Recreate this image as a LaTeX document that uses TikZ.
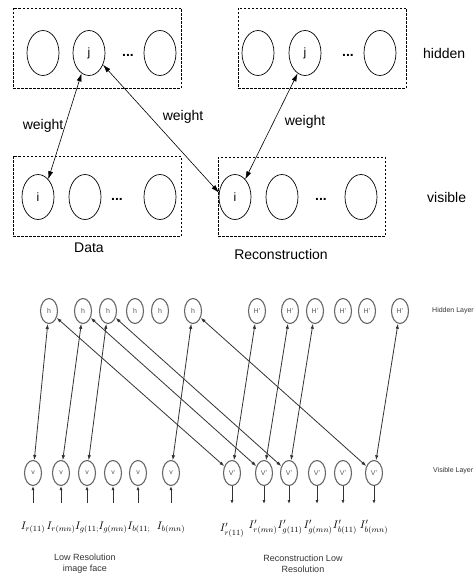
\documentclass[tikz,border=0pt]{standalone}
\usepackage{fontspec}
\setmainfont{Liberation Sans}
\usetikzlibrary{arrows.meta,shapes.geometric}
\begin{document}
\begin{tikzpicture}[x=1pt,y=-1pt,
 bigunit/.style={ellipse,draw,line width=0.7pt,minimum width=32pt,minimum height=45pt,inner sep=0pt,font=\fontsize{12}{14}\selectfont},
 smallunit/.style={ellipse,draw=black!60,line width=1.1pt,minimum width=17pt,minimum height=25pt,inner sep=0pt,font=\fontsize{7}{8}\selectfont,text=black!65},
 layerbox/.style={draw,dash pattern=on 2.5pt off 1.5pt,line width=0.6pt,inner sep=0pt},
 topedge/.style={{Latex[length=8pt,width=5pt]}-{Latex[length=8pt,width=5pt]},line width=0.6pt},
 botedge/.style={{Latex[length=5pt,width=3.5pt]}-{Latex[length=5pt,width=3.5pt]},line width=0.8pt,draw=black!80},
 inedge/.style={-{Latex[length=4pt,width=3pt]},line width=0.9pt,draw=black!80},
 toplabel/.style={font=\fontsize{14}{16}\selectfont},
 dotsnode/.style={font=\fontsize{14}{16}\selectfont\bfseries},
 mathlabel/.style={font=\fontsize{11}{13}\selectfont,inner sep=0pt},
 smalltext/.style={font=\fontsize{9}{11}\selectfont,align=center,text=black!80},
 layertext/.style={font=\fontsize{7}{8}\selectfont,anchor=west,text=black!80,inner sep=0pt}
]
\useasboundingbox (0,0) rectangle (476,578);
% ---------- top: boxes ----------
\node[layerbox,minimum width=168pt,minimum height=80pt] (hbox1) at (97,48) {};
\node[layerbox,minimum width=168pt,minimum height=80pt] (hbox2) at (322,48) {};
\node[layerbox,minimum width=168pt,minimum height=80pt] (dbox) at (97,196) {};
\node[layerbox,minimum width=167pt,minimum height=79pt] (rbox) at (301.5,196.5) {};
% hidden units left
\node[bigunit] (a1) at (43,53) {};
\node[bigunit] (aj) at (89,53) {j};
\node[dotsnode] (adots) at (128,55) {...};
\node[bigunit] (a3) at (160,53) {};
% hidden units right
\node[bigunit] (b1) at (258,53) {};
\node[bigunit] (bj) at (305,53) {j};
\node[dotsnode] (bdots) at (348,55) {...};
\node[bigunit] (b3) at (380,53) {};
% visible data
\node[bigunit] (di) at (38,197) {i};
\node[bigunit] (d2) at (85,197) {};
\node[dotsnode] (ddots) at (117,199) {...};
\node[bigunit] (d3) at (160,197) {};
% visible reconstruction
\node[bigunit] (ri) at (235,197) {i};
\node[bigunit] (r2) at (282,197) {};
\node[dotsnode] (rdots) at (321,199) {...};
\node[bigunit] (r3) at (361,197) {};
% connectors
\draw[topedge] (aj.250) -- (di.60);
\draw[topedge] (aj.-40) -- (ri.165);
\draw[topedge] (bj.250) -- (ri.60);
% labels
\node[toplabel] (w1) at (43,126) {weight};
\node[toplabel] (w2) at (183,117) {weight};
\node[toplabel] (w3) at (305,122) {weight};
\node[toplabel,anchor=west,inner sep=0pt] (lh) at (423,53) {hidden};
\node[toplabel,anchor=west,inner sep=0pt] (lv) at (427,197) {visible};
\node[toplabel] (ld) at (89,248) {Data};
\node[toplabel] (lr) at (281,254) {Reconstruction};
% ---------- bottom ----------
\foreach \x [count=\i] in {49,83,108,135,160,193} \node[smallunit] (h\i) at (\x,311) {h};
\foreach \x [count=\i] in {257,290,315,343,367,400} \node[smallunit] (H\i) at (\x,311) {H'};
\foreach \x [count=\i] in {33,61,87,113,138,171} {
  \node[smallunit] (v\i) at (\x,473) {v};
  \coordinate (vin\i) at (\x,503);
  \draw[inedge] (vin\i) -- (v\i);
}
\foreach \x [count=\i] in {232,264,289,317,343,374} {
  \node[smallunit] (V\i) at (\x,473) {V'};
  \coordinate (Vout\i) at (\x,504);
  \draw[inedge] (V\i) -- (Vout\i);
}
\foreach \i in {1,2,3,6} {
  \draw[botedge] (h\i) -- (v\i);
  \draw[botedge] (h\i) -- (V\i);
  \draw[botedge] (H\i) -- (V\i);
}
% math labels
\node[mathlabel] (l1) at (33,528) {$I_{r(11)}$};
\node[mathlabel] (l2) at (61,528) {$I_{r(mn)}$};
\node[mathlabel] (l3) at (87,528) {$I_{g(11;}$};
\node[mathlabel] (l4) at (113,528) {$I_{g(mn)}$};
\node[mathlabel] (l5) at (139,528) {$I_{b(11;}$};
\node[mathlabel] (l6) at (171,528) {$I_{b(mn)}$};
\node[mathlabel] (m1) at (232,530) {$I'_{r(11)}$};
\node[mathlabel] (m2) at (263,527) {$I'_{r(mn)}$};
\node[mathlabel] (m3) at (290,527) {$I'_{g(11)}$};
\node[mathlabel] (m4) at (318,527) {$I'_{g(mn)}$};
\node[mathlabel] (m5) at (345,527) {$I'_{b(11)}$};
\node[mathlabel] (m6) at (374,527) {$I'_{b(mn)}$};
\node[smalltext] (lowres) at (85,564) {Low Resolution\\image face};
\node[smalltext] (reclow) at (303,564) {Reconstruction Low\\Resolution};
\node[layertext] (hl) at (432,311) {Hidden Layer};
\node[layertext] (vl) at (433,471) {Visible Layer};
\end{tikzpicture}
\end{document}
